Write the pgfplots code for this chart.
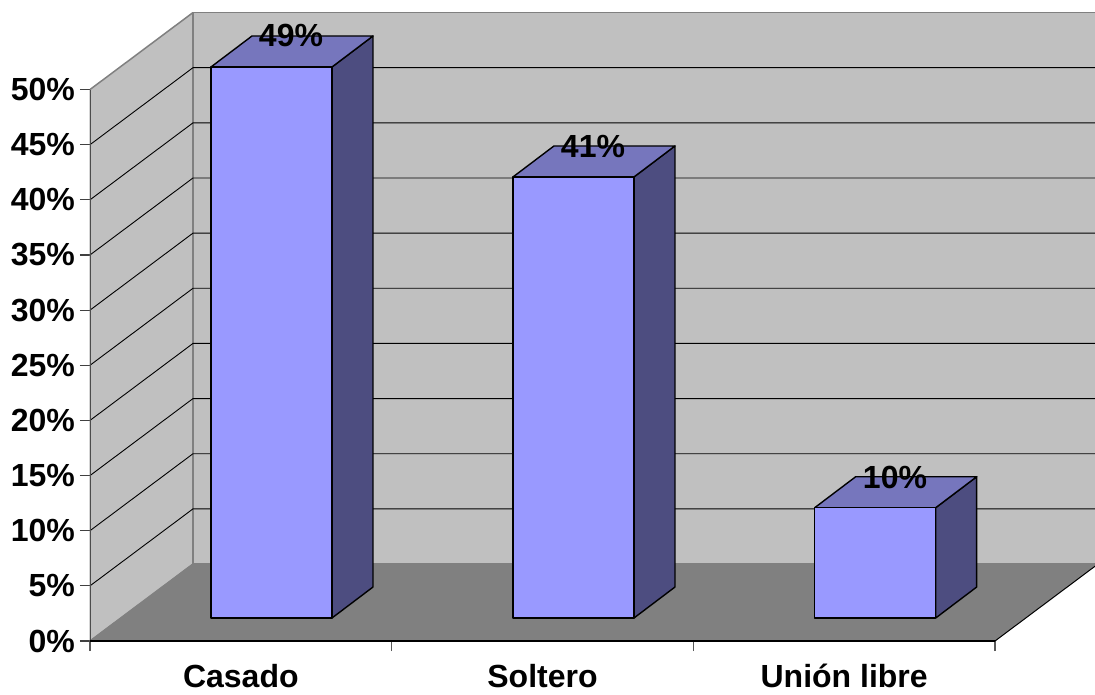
\documentclass[border=0pt]{standalone}
\usepackage{pgfplots}
\pgfplotsset{compat=1.18}
\usepackage{fontspec}
\setmainfont{Liberation Sans}
\definecolor{wall}{HTML}{C0C0C0}
\definecolor{floorc}{HTML}{808080}
\definecolor{barfront}{HTML}{9999FF}
\definecolor{bartop}{HTML}{7676BD}
\definecolor{barside}{HTML}{4D4D80}
\newcommand{\chartfont}{\fontsize{32}{36}\selectfont\bfseries}
\begin{document}
\begin{tikzpicture}
\useasboundingbox (-90pt,-53pt) rectangle (1005pt,641pt);
\begin{axis}[
  scale only axis, width=1005pt, height=629pt,
  xmin=0, xmax=3.3315, ymin=0, ymax=57.03,
  axis line style={draw=none},
  xtick pos=bottom, ytick pos=left,
  xtick={0,1,2,3}, xticklabels={},
  extra x ticks={0.5,1.5,2.5},
  extra x tick labels={Casado,Soltero,Unión libre},
  extra x tick style={major tick length=0pt, xticklabel style={yshift=-23pt}},
  ytick={0,5,10,15,20,25,30,35,40,45,50},
  yticklabels={0\%,5\%,10\%,15\%,20\%,25\%,30\%,35\%,40\%,45\%,50\%},
  tick align=outside, major tick length=10pt,
  tick style={draw=black!75, line width=1.1pt},
  x tick style={draw=black!65},
  ticklabel style={font=\chartfont, text=black, inner sep=0pt},
  yticklabel style={xshift=-5pt},
  clip=true,
]
% left wall, back wall, floor
\addplot[fill=wall, draw=floorc, line width=1.5pt] coordinates {(0,0) (0,50) (0.3414,56.98) (0.3414,6.98)} -- cycle;
\addplot[fill=wall, draw=floorc, line width=1.5pt] coordinates {(0.3414,6.98) (0.3414,56.98) (3.4,56.98) (3.4,6.98)} -- cycle;
\addplot[fill=floorc, draw=none] coordinates {(0,0) (3,0) (3.3414,6.98) (0.3414,6.98)} -- cycle;
\addplot[draw=floorc, line width=1.2pt] coordinates {(0.3414,6.98) (3.4,6.98)};
\addplot[draw=floorc, line width=1pt] coordinates {(0,0) (0.3414,6.98)};
% gridlines
\addplot[black, line width=0.9pt] coordinates {(0,5)  (0.3414,11.98) (3.4,11.98)};
\addplot[black, line width=0.9pt] coordinates {(0,10) (0.3414,16.98) (3.4,16.98)};
\addplot[black, line width=0.9pt] coordinates {(0,15) (0.3414,21.98) (3.4,21.98)};
\addplot[black, line width=0.9pt] coordinates {(0,20) (0.3414,26.98) (3.4,26.98)};
\addplot[black, line width=0.9pt] coordinates {(0,25) (0.3414,31.98) (3.4,31.98)};
\addplot[black, line width=0.9pt] coordinates {(0,30) (0.3414,36.98) (3.4,36.98)};
\addplot[black, line width=0.9pt] coordinates {(0,35) (0.3414,41.98) (3.4,41.98)};
\addplot[black, line width=0.9pt] coordinates {(0,40) (0.3414,46.98) (3.4,46.98)};
\addplot[black, line width=0.9pt] coordinates {(0,45) (0.3414,51.98) (3.4,51.98)};
% front axis lines
\addplot[draw=black!70, line width=1.2pt] coordinates {(0,0) (0,50)};
\addplot[black, line width=1.2pt] coordinates {(0,0) (3,0)};
\addplot[black, line width=1pt] coordinates {(3,0) (3.3414,6.98)};
% Casado (drawn height 50)
\addplot[fill=barside, draw=black, line width=1.4pt, line join=round] coordinates {(0.8022,2.085) (0.9381,4.895) (0.9381,54.855) (0.8022,52.045)} -- cycle;
\addplot[fill=bartop, draw=black, line width=1.4pt, line join=round] coordinates {(0.4011,52.045) (0.5370,54.855) (0.9381,54.855) (0.8022,52.045)} -- cycle;
\addplot[fill=barfront, draw=black, line width=1.4pt, line join=round] coordinates {(0.4011,2.085) (0.8022,2.085) (0.8022,52.045) (0.4011,52.045)} -- cycle;
% Soltero (drawn height 40)
\addplot[fill=barside, draw=black, line width=1.4pt, line join=round] coordinates {(1.8033,2.085) (1.9392,4.895) (1.9392,44.885) (1.8033,42.075)} -- cycle;
\addplot[fill=bartop, draw=black, line width=1.4pt, line join=round] coordinates {(1.4022,42.075) (1.5381,44.885) (1.9392,44.885) (1.8033,42.075)} -- cycle;
\addplot[fill=barfront, draw=black, line width=1.4pt, line join=round] coordinates {(1.4022,2.085) (1.8033,2.085) (1.8033,42.075) (1.4022,42.075)} -- cycle;
% Union libre (drawn height 10)
\addplot[fill=barside, draw=black, line width=1.4pt, line join=round] coordinates {(2.8034,2.085) (2.9393,4.895) (2.9393,14.895) (2.8034,12.085)} -- cycle;
\addplot[fill=bartop, draw=black, line width=1.4pt, line join=round] coordinates {(2.4023,12.085) (2.5382,14.895) (2.9393,14.895) (2.8034,12.085)} -- cycle;
\addplot[fill=barfront, draw=black, line width=1.4pt, line join=round] coordinates {(2.4023,2.085) (2.8034,2.085) (2.8034,12.085) (2.4023,12.085)} -- cycle;
% data labels
\node[font=\chartfont, inner sep=0pt] at (axis cs:0.6663,54.94) {49\%};
\node[font=\chartfont, inner sep=0pt] at (axis cs:1.6674,44.88) {41\%};
\node[font=\chartfont, inner sep=0pt] at (axis cs:2.6685,14.87) {10\%};
\end{axis}
\end{tikzpicture}
\end{document}
